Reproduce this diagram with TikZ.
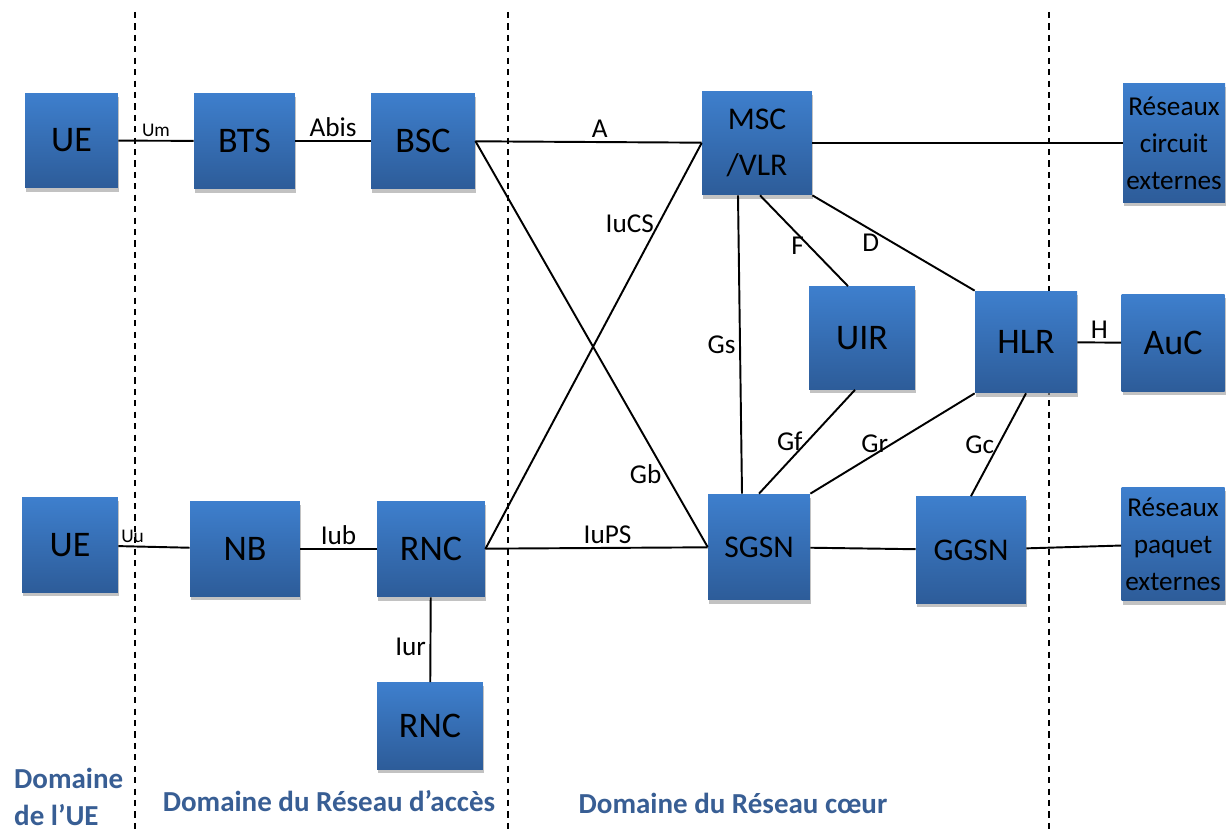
\documentclass[tikz,border=0pt]{standalone}
\usepackage{fontspec}
\setmainfont{Carlito}
\usetikzlibrary{shadows,calc}

\definecolor{boxtop}{RGB}{62,127,205}
\definecolor{boxbottom}{RGB}{45,92,153}
\definecolor{domainblue}{RGB}{56,94,148}

\begin{document}
\begin{tikzpicture}[
    x=0.02cm, y=-0.02cm,
    box/.style={rectangle, top color=boxtop, bottom color=boxbottom, draw=none, inner sep=0pt, minimum width=2.04cm, minimum height=1.92cm, text=black, font=\fontsize{20.5}{24}\selectfont, drop shadow={shadow xshift=0.8pt, shadow yshift=-2pt, fill=black!40, opacity=0.6}},
    midbox/.style={box, font=\fontsize{18}{26.5}\selectfont, align=center},
    extbox/.style={box, font=\fontsize{15.5}{21}\selectfont, align=center},
    link/.style={line width=1.1pt},
    lbl/.style={font=\fontsize{15.5}{18}\selectfont, inner sep=2pt},
    smalllbl/.style={font=\fontsize{11}{13}\selectfont, inner sep=1.5pt},
    divider/.style={line width=0.8pt, dash pattern=on 3.5pt off 3pt},
    domainlbl/.style={font=\bfseries\fontsize{16.5}{21}\selectfont, text=domainblue}
]
\useasboundingbox (0,0) rectangle (1231,834);

% ============ SEPARATIONS DES DOMAINES ============
\draw[divider] (135,12) -- (135,834);
\draw[divider] (508,12) -- (508,834);
\draw[divider] (1049,12) -- (1049,834);

% ============ LIGNE GSM ============
\node[box, minimum width=1.86cm, minimum height=1.90cm] (ue-gsm) at (71.5,140.5) {UE};
\node[box, minimum width=2.02cm] (bts) at (244.5,141) {BTS};
\node[box, minimum width=2.08cm] (bsc) at (423,141) {BSC};

% ============ COEUR DE RESEAU ============
\node[midbox, minimum width=2.2cm, minimum height=2.08cm] (msc-vlr) at (757,143) {MSC\\/VLR};
\node[extbox, minimum height=2.4cm] (res-circuit) at (1174,143) {Réseaux\\circuit\\externes};
\node[box, minimum width=2.12cm, minimum height=2.06cm] (uir) at (862,338) {UIR};
\node[box, minimum height=2.04cm] (hlr) at (1026,342) {HLR};
\node[box, minimum width=2.06cm, minimum height=1.94cm] (auc) at (1173,343) {AuC};
\node[midbox, minimum height=2.12cm] (sgsn) at (759,547) {SGSN};
\node[midbox, minimum width=2.2cm, minimum height=2.14cm] (ggsn) at (971,550) {GGSN};
\node[extbox, minimum width=2.06cm, minimum height=2.28cm] (res-paquet) at (1173,544) {Réseaux\\paquet\\externes};

% ============ LIGNE UMTS ============
\node[box, minimum width=1.92cm, minimum height=1.90cm] (ue-umts) at (70,545) {UE};
\node[box, minimum width=2.2cm, minimum height=1.90cm] (nb) at (245,549) {NB};
\node[box, minimum width=2.16cm] (rnc) at (431,549) {RNC};
\node[box, minimum width=2.12cm, minimum height=1.74cm] (rnc-2) at (430,726) {RNC};

% ============ DOMAINES ============
\node[domainlbl, align=left, anchor=west] (dom-ue) at (8,797) {Domaine\\de l’UE};
\node[domainlbl] (dom-acces) at (329,801) {Domaine du Réseau d’accès};
\node[domainlbl] (dom-coeur) at (733,803) {Domaine du Réseau cœur};

% ============ INTERFACES ============
% GSM
\draw[link] (ue-gsm) -- node[smalllbl, above] (lbl-um) {Um} (bts);
\draw[link] (bts) -- node[lbl, above] (lbl-abis) {Abis} (bsc);
\draw[link] (bsc) -- node[lbl, above, pos=0.55] (lbl-a) {A} (msc-vlr);
\draw[link] (msc-vlr) -- (res-circuit);
\draw[link] (bsc.east) -- node[lbl, left, pos=0.82] (lbl-gb) {Gb} (sgsn.west);

% UMTS
\draw[link] (ue-umts) -- node[smalllbl, above, pos=0.2] (lbl-uu) {Uu} (nb);
\draw[link] (nb) -- node[lbl, above] (lbl-iub) {Iub} (rnc);
\draw[link] (rnc.east) -- node[lbl, left, pos=0.8] (lbl-iucs) {IuCS} (msc-vlr.west);
\draw[link] (rnc) -- node[lbl, above, pos=0.55] (lbl-iups) {IuPS} (sgsn);
\draw[link] (rnc) -- node[lbl, left, pos=0.58] (lbl-iur) {Iur} (rnc-2);

% Coeur
\draw[link] ($(msc-vlr.south)+(-19,0)$) -- node[lbl, left] (lbl-gs) {Gs} ($(sgsn.north)+(-17,0)$);
\draw[link] ($(msc-vlr.south)+(3,0)$) -- node[lbl, left, pos=0.55] (lbl-f) {F} ($(uir.north)+(-14,0)$);
\draw[link] (msc-vlr.south east) -- node[lbl, below, pos=0.36] (lbl-d) {D} (hlr.north west);
\draw[link] ($(uir.south)+(-7,0)$) -- node[lbl, left] (lbl-gf) {Gf} (sgsn.north);
\draw[link] (hlr.south west) -- node[lbl, left] (lbl-gr) {Gr} (sgsn.north east);
\draw[link] (hlr.south) -- node[lbl, left] (lbl-gc) {Gc} (ggsn.north);
\draw[link] (hlr) -- node[lbl, above] (lbl-h) {H} (auc);
\draw[link] (sgsn) -- (ggsn);
\draw[link] (ggsn) -- (res-paquet);

\end{tikzpicture}
\end{document}
